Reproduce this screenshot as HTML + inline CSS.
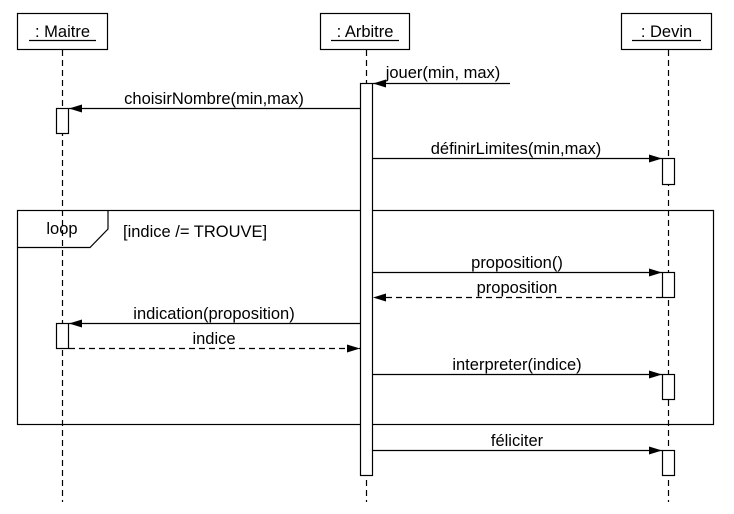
<!DOCTYPE html>
<html><head><meta charset="utf-8"><style>
html,body{margin:0;padding:0;background:#fff}
svg{display:block}
text{font-family:"Liberation Sans",sans-serif;font-size:16.5px;fill:#000}
</style></head><body>
<svg width="734" height="514" viewBox="0 0 734 514" xmlns="http://www.w3.org/2000/svg">
<defs>
<marker id="a" markerWidth="14" markerHeight="8" refX="13" refY="4" orient="auto" markerUnits="userSpaceOnUse">
<path d="M0,0 L13,4 L0,8 z" fill="#000"/></marker>
</defs>
<g stroke="#000" stroke-width="1.2" fill="#fff">
<line x1="62.5" y1="50" x2="62.5" y2="502" stroke-dasharray="6,4"/>
<line x1="366.5" y1="50" x2="366.5" y2="502" stroke-dasharray="6,4"/>
<line x1="668.5" y1="50" x2="668.5" y2="502" stroke-dasharray="6,4"/>
<rect x="17.5" y="13.5" width="90" height="36"/>
<rect x="320.5" y="13.5" width="89" height="36"/>
<rect x="621.5" y="13.5" width="90" height="36"/>
<rect x="17.5" y="210.5" width="696" height="214" fill="none"/>
<path d="M17.5,247.5 H90 L108,229 V210.5" fill="none"/>
<rect x="360.5" y="83.5" width="12" height="392"/>
<rect x="56.5" y="108.5" width="12" height="25"/>
<rect x="662.5" y="158.5" width="12" height="26"/>
<rect x="662.5" y="272.5" width="12" height="25"/>
<rect x="56.5" y="323.5" width="12" height="25"/>
<rect x="662.5" y="374.5" width="12" height="25"/>
<rect x="662.5" y="450.5" width="12" height="25"/>
<g fill="none">
<line x1="510" y1="83.5" x2="373" y2="83.5" marker-end="url(#a)"/>
<line x1="360" y1="108.5" x2="69" y2="108.5" marker-end="url(#a)"/>
<line x1="373" y1="158.5" x2="662" y2="158.5" marker-end="url(#a)"/>
<line x1="373" y1="272.5" x2="662" y2="272.5" marker-end="url(#a)"/>
<line x1="662" y1="297.5" x2="373" y2="297.5" stroke-dasharray="6,4" marker-end="url(#a)"/>
<line x1="360" y1="323.5" x2="69" y2="323.5" marker-end="url(#a)"/>
<line x1="69" y1="348.5" x2="360" y2="348.5" stroke-dasharray="6,4" marker-end="url(#a)"/>
<line x1="373" y1="374.5" x2="662" y2="374.5" marker-end="url(#a)"/>
<line x1="373" y1="450.5" x2="662" y2="450.5" marker-end="url(#a)"/>
</g>
<line x1="29" y1="40.5" x2="96" y2="40.5"/>
<line x1="331" y1="40.5" x2="399" y2="40.5"/>
<line x1="632" y1="40.5" x2="701" y2="40.5"/>
</g>
<g text-anchor="middle">
<text x="62.5" y="37">: Maitre</text>
<text x="365" y="37">: Arbitre</text>
<text x="666.5" y="37">: Devin</text>
<text x="443" y="78">jouer(min, max)</text>
<text x="214" y="104">choisirNombre(min,max)</text>
<text x="516" y="154">définirLimites(min,max)</text>
<text x="62" y="234">loop</text>
<text x="517" y="268">proposition()</text>
<text x="517" y="293">proposition</text>
<text x="214" y="319">indication(proposition)</text>
<text x="214" y="344">indice</text>
<text x="517" y="370">interpreter(indice)</text>
<text x="517" y="446">féliciter</text>
</g>
<text x="123" y="237">[indice /= TROUVE]</text>
</svg>
</body></html>
